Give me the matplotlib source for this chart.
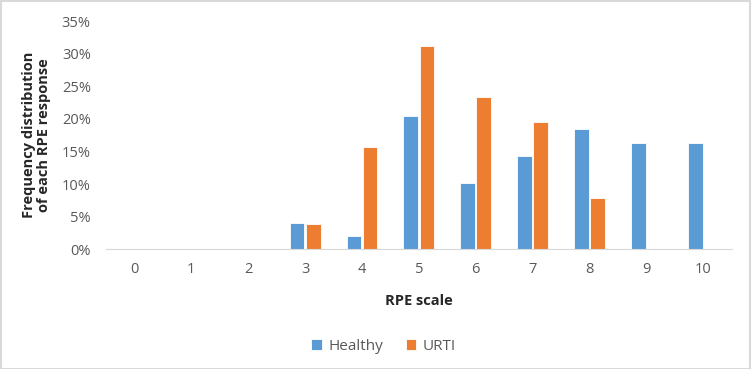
import numpy as np
import matplotlib.pyplot as plt
from matplotlib.ticker import PercentFormatter
from matplotlib.patches import Rectangle

plt.rcParams['font.family'] = ['Open Sans', 'DejaVu Sans']

rpe = ['0', '1', '2', '3', '4', '5', '6', '7', '8', '9', '10']
healthy = [0, 0, 0, 4.1, 2.0, 20.4, 10.2, 14.3, 18.4, 16.3, 16.3]
urti = [0, 0, 0, 3.9, 15.7, 31.1, 23.4, 19.5, 7.9, 0, 0]

grey = '#595959'
fig = plt.figure(figsize=(7.52, 3.69), dpi=100)
ax = fig.add_axes([0.141, 0.324, 0.832, 0.619])

x = np.arange(len(rpe))
w = 0.26
ax.bar(x - 0.142, healthy, w, color='#5B9BD5', edgecolor='white', linewidth=0.6, label='Healthy')
ax.bar(x + 0.142, urti, w, color='#ED7D31', edgecolor='white', linewidth=0.6, label='URTI')

ax.set_xlim(-0.5, len(rpe) - 0.5)
ax.set_ylim(0, 35)
ax.set_yticks(np.arange(0, 36, 5))
ax.yaxis.set_major_formatter(PercentFormatter(decimals=0))
ax.set_xticks(x)
ax.set_xticklabels(rpe)
ax.tick_params(length=0, labelsize=10.5, colors=grey)
ax.tick_params(axis='x', pad=9)
ax.tick_params(axis='y', pad=11)
for s in ['top', 'right', 'left']:
    ax.spines[s].set_visible(False)
ax.spines['bottom'].set_color('#d9d9d9')

ax.set_xlabel('RPE scale', fontsize=10.5, fontweight='bold', color='#262626', labelpad=12)
ax.set_ylabel('Frequency distribution\nof each RPE response', fontsize=10.5,
              fontweight='bold', color='#262626', labelpad=8, linespacing=1.05)

fig.legend(loc='center', bbox_to_anchor=(0.51, 0.062), ncol=2, frameon=False,
           fontsize=11, handlelength=0.7, handleheight=0.7, columnspacing=1.5,
           handletextpad=0.4, labelcolor=grey)

fig.patches.append(Rectangle((0.001, 0.001), 0.997, 0.997, transform=fig.transFigure,
                             fill=False, edgecolor='#d9d9d9', linewidth=1.5))

fig.savefig('out.png', dpi=100)
